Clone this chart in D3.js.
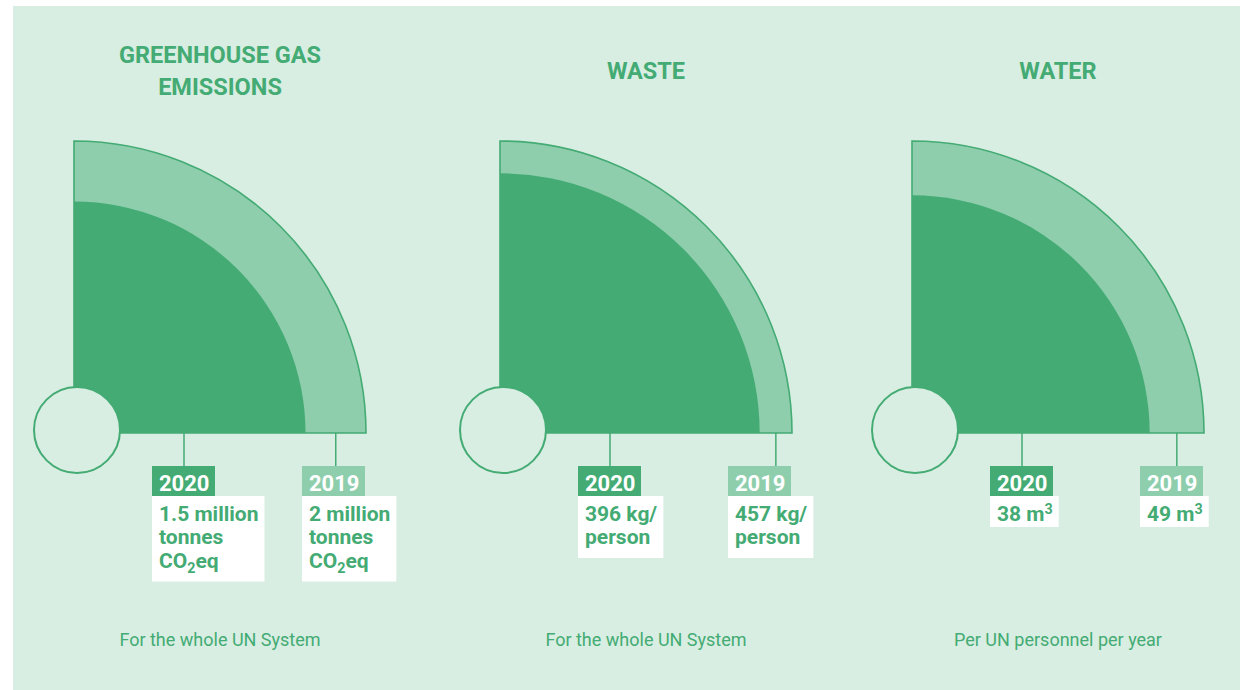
<!DOCTYPE html>
<html>
<head>
<meta charset="utf-8">
<script src="https://cdn.jsdelivr.net/npm/d3@7"></script>
<style>
	body { margin: 0; background: #fff; }
	svg { display: block; font-family: Roboto, sans-serif; }
</style>
</head>
<body>
<div id="chart"></div>
<script>
// values
const metrics = ['ghg', 'waste', 'water']
const titles = [['GREENHOUSE GAS', 'EMISSIONS'], ['WASTE'], ['WATER']]
const years = ['2020', '2019']
const values2020 = [1.5, 396, 38]
const values2019 = [2, 457, 49]
const labels2020 = [['1.5 million', 'tonnes', 'CO_2eq'], ['396 kg/', 'person'], ['38 m^3']]
const labels2019 = [['2 million', 'tonnes', 'CO_2eq'], ['457 kg/', 'person'], ['49 m^3']]
const notes = ['For the whole UN System', 'For the whole UN System', 'Per UN personnel per year']

const colors = { bg: '#d8eee2', dark: '#43ab73', light: '#8ecead' }

// layout
const width = 1240
const height = 690
const panelLeft = [74, 500, 912] // corner of each quadrant
const baseY = 433
const outerR = 292
const hubR = 50 // radial scale starts just outside the hub circle
const boxTop = 466
const yearH = 30
const lineH = 23.5

const svg = d3.select('#chart')
	.append('svg')
	.attr('width', width)
	.attr('height', height)

svg.append('rect')
	.attr('x', 13)
	.attr('y', 6)
	.attr('width', width - 13)
	.attr('height', height - 6)
	.attr('fill', colors.bg)

const arc = d3.arc()
	.innerRadius(0)
	.startAngle(0)
	.endAngle(Math.PI / 2)

// writes one label line, '_2' = subscript, '^3' = superscript
function richLine(text, str) {
	const parts = str.split(/([_^]\d)/).filter(p => p)
	let shift = 0
	parts.forEach(p => {
		if (p[0] === '_' || p[0] === '^') {
			const dy = p[0] === '_' ? 5 : -7
			text.append('tspan').attr('dy', dy).attr('font-size', '0.68em').text(p[1])
			shift = -dy
		} else {
			text.append('tspan').attr('dy', shift).text(p)
			shift = 0
		}
	})
}

function valueBox(g, x, year, lines, fill) {
	const box = g.append('g').attr('transform', `translate(${x},${boxTop})`)
	box.append('rect')
		.attr('width', 63)
		.attr('height', yearH)
		.attr('fill', fill)
	box.append('text')
		.attr('x', 7)
		.attr('y', 25)
		.attr('fill', '#fff')
		.attr('font-size', 22)
		.attr('font-weight', 700)
		.text(year)

	const white = box.append('rect')
		.attr('y', yearH)
		.attr('fill', '#fff')
	const txt = box.append('g')
	lines.forEach((l, i) => {
		const t = txt.append('text')
			.attr('x', 7)
			.attr('y', yearH + 24.5 + i * lineH)
			.attr('fill', colors.dark)
			.attr('font-size', 21)
			.attr('font-weight', 700)
		richLine(t, l)
	})
	const w = Math.max(63, txt.node().getBBox().width + 13)
	const h = lines.length === 1 ? 31 : lines.length * lineH + 15
	white.attr('width', w).attr('height', h)
}

metrics.forEach((m, i) => {
	const x0 = panelLeft[i]
	const g = svg.append('g').attr('class', `panel ${m}`)
	const r = d3.scaleLinear()
		.domain([0, Math.max(values2020[i], values2019[i])])
		.range([hubR, outerR])
	const cx = x0 + outerR / 2

	// title
	const n = titles[i].length
	titles[i].forEach((t, j) => {
		g.append('text')
			.attr('x', cx)
			.attr('y', 79 + (j - (n - 1) / 2) * 32)
			.attr('text-anchor', 'middle')
			.attr('fill', colors.dark)
			.attr('font-size', 23.5)
			.attr('font-weight', 700)
			.text(t)
	})

	const quad = g.append('g').attr('transform', `translate(${x0},${baseY})`)
	quad.append('path')
		.attr('d', arc.outerRadius(r(values2019[i]))())
		.attr('fill', colors.light)
		.attr('stroke', colors.dark)
		.attr('stroke-width', 1.6)
	quad.append('path')
		.attr('d', arc.outerRadius(r(values2020[i]))())
		.attr('fill', colors.dark)

	// connectors
	const x2020 = x0 + 110
	const x2019 = x0 + (r(values2020[i]) + r(values2019[i])) / 2
	g.selectAll('line.conn')
		.data([x2020, x2019])
		.enter()
		.append('line')
		.attr('class', 'conn')
		.attr('x1', d => d)
		.attr('x2', d => d)
		.attr('y1', baseY)
		.attr('y2', boxTop)
		.attr('stroke', colors.dark)
		.attr('stroke-width', 1.5)

	g.append('circle')
		.attr('cx', x0 + 3)
		.attr('cy', baseY - 3)
		.attr('r', 43)
		.attr('fill', colors.bg)
		.attr('stroke', colors.dark)
		.attr('stroke-width', 2)

	valueBox(g, x2020 - 32, years[0], labels2020[i], colors.dark)
	valueBox(g, x0 + 228, years[1], labels2019[i], colors.light)

	g.append('text')
		.attr('x', cx)
		.attr('y', 646)
		.attr('text-anchor', 'middle')
		.attr('fill', colors.dark)
		.attr('font-size', 18)
		.text(notes[i])
})
</script>
</body>
</html>
